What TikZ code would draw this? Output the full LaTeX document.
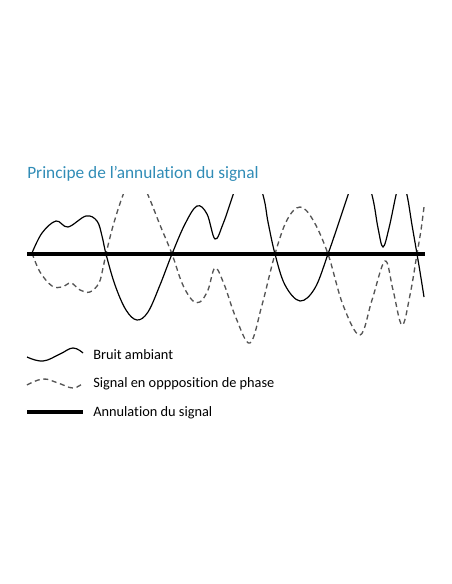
\documentclass[tikz,border=0pt]{standalone}
\usepackage{fontspec}
\setmainfont{Carlito}[Ligatures=NoCommon]
\usetikzlibrary{calc}
\definecolor{titleblue}{RGB}{48,140,182}
\definecolor{dashgray}{RGB}{85,85,85}
\tikzset{
    noise/.style={line width=0.85pt, black},
    antinoise/.style={line width=0.95pt, dashgray, dash pattern=on 3.6pt off 2.6pt},
    result/.style={line width=3.4pt, black},
    legendtext/.style={anchor=west, inner sep=0pt, font=\fontsize{10.2}{11}\selectfont}
}

\begin{document}
\begin{tikzpicture}[x=0.025cm, y=-0.025cm]
    \useasboundingbox (0,0) rectangle (452,584);
    % title
    \node[anchor=base west, inner sep=0pt, text=titleblue, font=\fontsize{12.3}{14}\selectfont] (title) at (27,178) {Principe de l’annulation du signal};
    % waves
    \begin{scope}
    \clip (20,194) rectangle (432,360);
    \draw[noise] plot[smooth, tension=0.6] coordinates {
        (32,253) (42,233) (56,221) (68,227) (86,216) (97,221) (102,236) (106,254)
        (115,285) (126,310) (137,320) (148,312) (160,285) (172,254) (185,224)
        (197,206) (207,214) (215,239) (223,224) (233,195) (248,150) (263,195)
        (268,222) (275,254) (285,285) (300,301) (315,288) (328,254) (338,225)
        (348,195) (360,160) (372,195) (378,228) (383,247) (389,228) (396,195)
        (401,175) (407,195) (412,225) (417,254) (421,278) (424,297)};
    \draw[antinoise] plot[smooth, tension=0.6] coordinates {
        (32,253) (40,272) (52,286) (62,287) (71,283) (80,290) (90,292) (99,283)
        (103,268) (106,254) (113,226) (123,195) (135,168) (148,195) (160,225)
        (172,254) (182,283) (192,300) (200,302) (208,290) (215,268) (224,284)
        (236,318) (250,343) (262,305) (275,254) (287,220) (300,207)
        (313,220) (328,254) (343,305) (360,335) (372,300) (385,261) (393,290)
        (402,325) (410,295) (417,254) (421,230) (424,207)};
    \end{scope}
    \coordinate (axl) at (27,254);
    \coordinate (axr) at (425,254);
    \draw[result] (axl) -- (axr);
    % legend
    \draw[noise] plot[smooth, tension=0.7] coordinates {(27,357) (43,361) (60,354) (73,348) (83,353)};
    \node[legendtext] (bruit) at (93,355) {Bruit ambiant};
    \draw[antinoise] plot[smooth, tension=0.7] coordinates {(27,385) (43,379) (58,383) (73,388) (83,383)};
    \node[legendtext] (signal) at (93,384) {Signal en oppposition de phase};
    \coordinate (legl) at (27,412);
    \coordinate (legr) at (83,412);
    \draw[result] (legl) -- (legr);
    \node[legendtext] (annul) at (93,413) {Annulation du signal};
\end{tikzpicture}
\end{document}
